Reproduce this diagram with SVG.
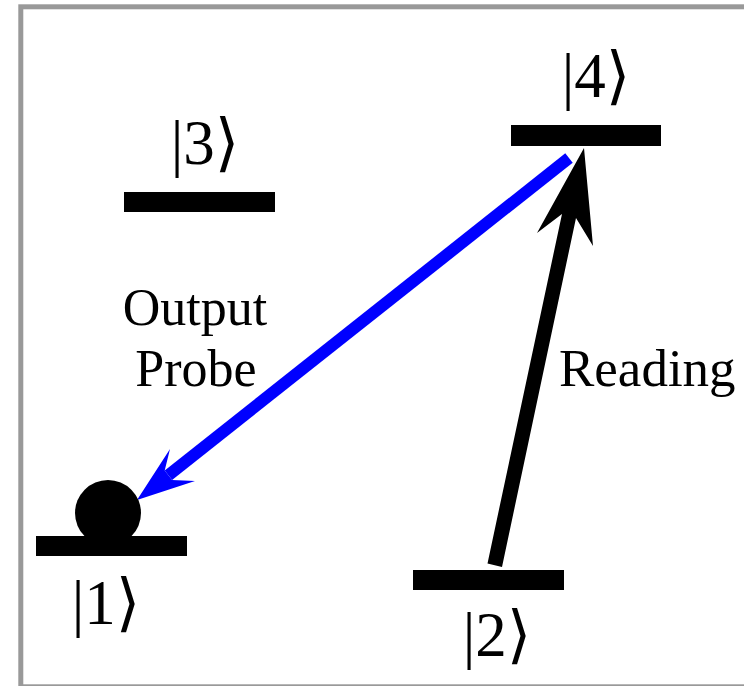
<svg xmlns="http://www.w3.org/2000/svg" width="744" height="686" viewBox="0 0 744 686">
<style>
.lvl{fill:#000}
.ket{font-family:"Liberation Serif","DejaVu Serif",serif;font-size:63px;text-anchor:middle;fill:#000}
.lbl{font-family:"Liberation Serif",serif;font-size:52px;fill:#000}
</style>
<rect x="0" y="0" width="744" height="686" fill="#fff"/>
<rect x="20.8" y="6.8" width="800" height="680" fill="none" stroke="#999" stroke-width="5"/>
<g id="connectors">
<g id="output-probe">
<line x1="168.4" y1="475.2" x2="569" y2="158" stroke="#0000ff" stroke-width="12"/>
<polygon points="137,500 170,449 164.7,470.5 172.1,479.9 195,481" fill="#0000ff"/>
</g>
<g id="reading">
<polygon points="584,148 593,246 576,218 502,567 487.5,563.4 562,214 537,233" fill="#000"/>
</g>
</g>
<g id="level1">
<rect class="lvl" x="36" y="536" width="151" height="20"/>
<circle cx="108" cy="513" r="33"/>
<text class="ket" x="106" y="624">|1⟩</text>
</g>
<g id="level2">
<rect class="lvl" x="413" y="570" width="151" height="20"/>
<text class="ket" x="497" y="656">|2⟩</text>
</g>
<g id="level3">
<rect class="lvl" x="124" y="192" width="151" height="20"/>
<text class="ket" x="205" y="164">|3⟩</text>
</g>
<g id="level4">
<rect class="lvl" x="511" y="125" width="150" height="21"/>
<text class="ket" x="596" y="97">|4⟩</text>
</g>
<g id="labels">
<text class="lbl" x="195" y="325" text-anchor="middle">Output</text>
<text class="lbl" x="196" y="386" text-anchor="middle">Probe</text>
<text class="lbl" x="559" y="386" style="font-size:53px">Reading</text>
</g>
</svg>
